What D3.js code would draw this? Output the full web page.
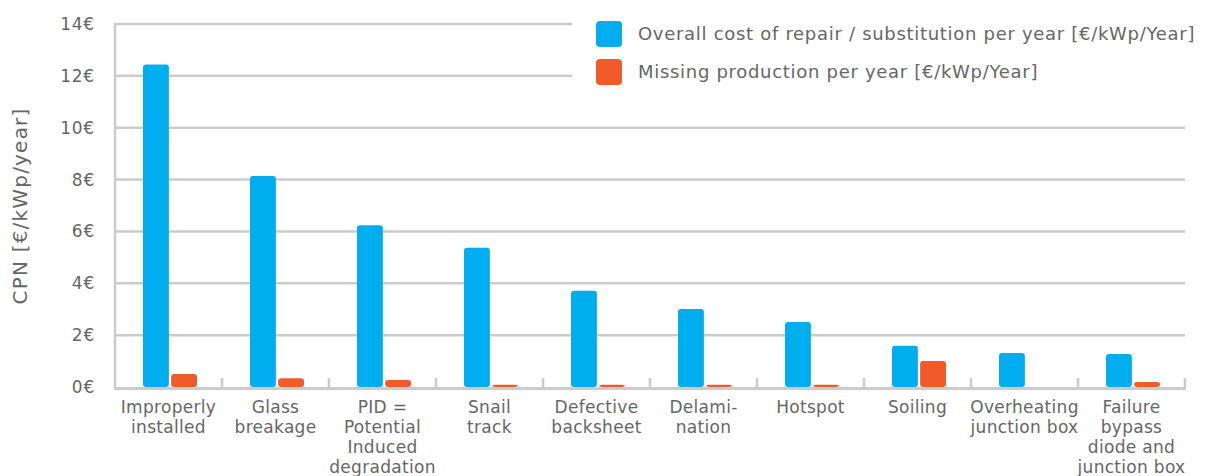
<!DOCTYPE html>
<html>
<head>
<meta charset="utf-8">
<script src="https://cdn.jsdelivr.net/npm/d3@7"></script>
<style>
  body { margin: 0; background: #fff; }
  svg { display: block; font-family: "DejaVu Sans", sans-serif; }
</style>
</head>
<body>
<script>
var categories = [
  ["Improperly", "installed"],
  ["Glass", "breakage"],
  ["PID =", "Potential", "Induced", "degradation"],
  ["Snail", "track"],
  ["Defective", "backsheet"],
  ["Delami-", "nation"],
  ["Hotspot"],
  ["Soiling"],
  ["Overheating", "junction box"],
  ["Failure", "bypass", "diode and", "junction box"]
];
var repairCost = [12.4, 8.1, 6.2, 5.33, 3.67, 2.97, 2.47, 1.55, 1.27, 1.23];
var missingProduction = [0.46, 0.3, 0.23, 0.05, 0.05, 0.05, 0.05, 0.96, 0, 0.15];
var seriesNames = [
  "Overall cost of repair / substitution per year [€/kWp/Year]",
  "Missing production per year [€/kWp/Year]"
];
var yTicks = [0, 2, 4, 6, 8, 10, 12, 14];

var colors = ["#00aeef", "#f15a29"];
var gridColor = "#cbcbcb";
var textColor = "#666666";

var svg = d3.select("body").append("svg")
  .attr("width", 1207)
  .attr("height", 476);

var margin = { top: 24, right: 22, bottom: 89, left: 115 },
  width = 1207 - margin.left - margin.right,
  height = 476 - margin.top - margin.bottom;

var g = svg.append("g")
  .attr("transform", "translate(" + margin.left + "," + margin.top + ")");

var keys = categories.map(function (d, i) { return i; });
var data = keys.map(function (i) {
  return { i: i, values: [repairCost[i], missingProduction[i]] };
});

var x0 = d3.scaleBand().domain(keys).range([0, width]);
var x1 = d3.scaleBand().domain([0, 1]).range([28, 82]).paddingInner(0.08);
var y = d3.scaleLinear().domain([0, 14]).range([height, 0]);

// grid lines
g.append("g")
  .selectAll("line")
  .data(yTicks.filter(function (d) { return d > 0; }))
  .enter().append("line")
  .attr("x1", 0)
  .attr("x2", width)
  .attr("y1", function (d) { return y(d); })
  .attr("y2", function (d) { return y(d); })
  .attr("stroke", gridColor)
  .attr("stroke-width", 2.5);

// left axis line
g.append("line")
  .attr("x1", 0).attr("x2", 0)
  .attr("y1", y(14) - 1).attr("y2", height + 1)
  .attr("stroke", gridColor)
  .attr("stroke-width", 2.5);

// y tick labels
g.append("g")
  .selectAll("text")
  .data(yTicks)
  .enter().append("text")
  .attr("x", -20)
  .attr("y", function (d) { return y(d); })
  .attr("dy", "0.35em")
  .attr("text-anchor", "end")
  .attr("fill", textColor)
  .attr("font-size", 17)
  .attr("letter-spacing", 0.8)
  .text(function (d) { return d + "€"; });

// bars
var groups = g.append("g")
  .selectAll("g")
  .data(data)
  .enter().append("g")
  .attr("transform", function (d) { return "translate(" + x0(d.i) + ",0)"; });

groups.selectAll("rect")
  .data(function (d) { return d.values.map(function (v, k) { return { k: k, v: v }; }); })
  .enter().filter(function (d) { return d.v > 0; })
  .append("rect")
  .attr("x", function (d) { return x1(d.k); })
  .attr("y", function (d) { return y(d.v) - 1; })
  .attr("width", x1.bandwidth())
  .attr("height", function (d) { return height - y(d.v) + 1; })
  .attr("rx", 3)
  .attr("fill", function (d) { return colors[d.k]; });

// bottom axis with upward ticks
g.append("line")
  .attr("x1", -1).attr("x2", width + 1)
  .attr("y1", height + 1.5).attr("y2", height + 1.5)
  .attr("stroke", gridColor)
  .attr("stroke-width", 3);

g.append("g")
  .selectAll("line")
  .data(keys.slice(1).concat([keys.length]))
  .enter().append("line")
  .attr("x1", function (d) { return d * x0.step(); })
  .attr("x2", function (d) { return d * x0.step(); })
  .attr("y1", height - 9)
  .attr("y2", height)
  .attr("stroke", gridColor)
  .attr("stroke-width", 2.5);

// category labels
var labels = g.append("g")
  .selectAll("text")
  .data(data)
  .enter().append("text")
  .attr("x", function (d) { return x0(d.i) + x0.bandwidth() / 2; })
  .attr("y", height + 26)
  .attr("text-anchor", "middle")
  .attr("fill", textColor)
  .attr("font-size", 17)
  .attr("letter-spacing", 0.3);

labels.selectAll("tspan")
  .data(function (d) { return categories[d.i]; })
  .enter().append("tspan")
  .attr("x", function () { return d3.select(this.parentNode).attr("x"); })
  .attr("dy", function (d, j) { return j === 0 ? 0 : 20; })
  .text(function (d) { return d; });

// y axis title
svg.append("text")
  .attr("transform", "translate(27," + 206 + ") rotate(-90)")
  .attr("text-anchor", "middle")
  .attr("fill", textColor)
  .attr("font-size", 20)
  .attr("letter-spacing", 1.2)
  .text("CPN [€/kWp/year]");

// legend
var legend = svg.append("g");
legend.append("rect")
  .attr("x", 572).attr("y", 0)
  .attr("width", 1207 - 572).attr("height", 100)
  .attr("fill", "#fff");

var items = legend.selectAll("g.item")
  .data(seriesNames)
  .enter().append("g")
  .attr("class", "item")
  .attr("transform", function (d, i) { return "translate(596," + (21 + i * 38) + ")"; });

items.append("rect")
  .attr("width", 26)
  .attr("height", 26)
  .attr("rx", 4)
  .attr("fill", function (d, i) { return colors[i]; });

items.append("text")
  .attr("x", 42)
  .attr("y", 13)
  .attr("dy", "0.35em")
  .attr("fill", textColor)
  .attr("font-size", 18)
  .attr("letter-spacing", 0.7)
  .text(function (d) { return d; });
</script>
</body>
</html>
